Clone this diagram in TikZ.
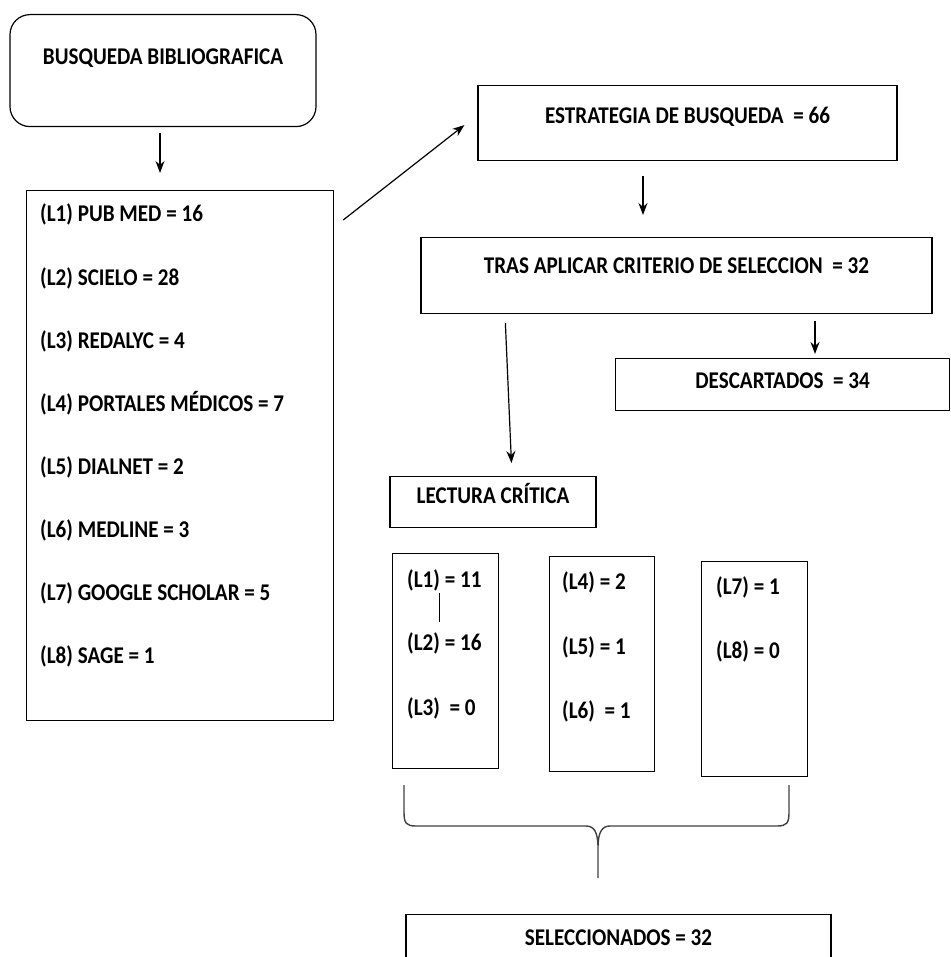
\documentclass[tikz,border=0pt]{standalone}
\usepackage{fontspec}
\setmainfont{Carlito}[FakeStretch=0.88]
\usetikzlibrary{arrows.meta}

\begin{document}
\begin{tikzpicture}[x=1pt,y=-1pt,font=\fontsize{24}{28}\selectfont\bfseries,
  box/.style={draw,line width=1.2pt,inner sep=0pt,align=center},
  txt/.style={anchor=base west,inner sep=0pt},
  post/.style={->,>={Stealth[length=12pt,width=9pt]},line width=1.2pt}]

\useasboundingbox (0,0) rectangle (950,957);

% left column
\node[box,rounded corners=20pt,anchor=north,minimum width=306pt,text height=50pt,text depth=62pt] (biblio) at (163,14) {BUSQUEDA BIBLIOGRAFICA};
\node[box,anchor=north west,minimum width=307pt,minimum height=530pt] (lista) at (26,190) {};
\foreach \i/\t in {1/{PUB MED = 16}, 2/{SCIELO = 28}, 3/{REDALYC = 4}, 4/{PORTALES MÉDICOS = 7},
                   5/{DIALNET = 2}, 6/{MEDLINE = 3}, 7/{GOOGLE SCHOLAR = 5}, 8/{SAGE = 1}}{
\node[txt] (l\i) at (40,{222+63*(\i-1)}) {(L\i) \t};
}

% right column
\node[box,anchor=north,minimum width=419pt,text height=38pt,text depth=37pt] (estr) at (687.5,85) {ESTRATEGIA DE BUSQUEDA \ = 66};
\node[box,anchor=north,minimum width=511pt,text height=36pt,text depth=40pt] (tras) at (676.5,237) {TRAS APLICAR CRITERIO DE SELECCION \ = 32};
\node[box,anchor=north west,minimum width=334pt,text height=30pt,text depth=22pt] (desc) at (615,358) {DESCARTADOS \ = 34};
\node[box,anchor=north,minimum width=206pt,text height=27pt,text depth=24pt] (lect) at (493,476) {LECTURA CRÍTICA};

% groups
\node[box,anchor=north west,minimum width=106pt,minimum height=215pt] (g1) at (392,553) {};
\node[box,anchor=north west,minimum width=105pt,minimum height=215pt] (g2) at (549,556) {};
\node[box,anchor=north west,minimum width=106pt,minimum height=215pt] (g3) at (701,561) {};

\node[txt] (k1) at (407,587) {(L1) = 11};
\node[txt] (k2) at (407,650) {(L2) = 16};
\node[txt] (k3) at (407,715) {(L3) \ = 0};
\node[txt] (k4) at (562,589) {(L4) = 2};
\node[txt] (k5) at (562,654) {(L5) = 1};
\node[txt] (k6) at (562,718) {(L6) \ = 1};
\node[txt] (k7) at (716,594) {(L7) = 1};
\node[txt] (k8) at (716,658) {(L8) = 0};
\draw[line width=0.9pt] (439,593) -- (439,622);

\node[box,anchor=north,minimum width=425pt,text height=31pt,text depth=40pt] (selec) at (618.5,914) {SELECCIONADOS = 32};

% arrows
\draw[post,shorten <=6pt,shorten >=17pt] ([xshift=-3pt]biblio.south) -- ([xshift=-3pt]biblio.south |- lista.north);
\draw[post] ([shift={(9,30)}]lista.north east) -- ([shift={(-13,2)}]estr.west);
\draw[post,shorten <=15pt,shorten >=22pt] ([xshift=-44.5pt]estr.south) -- ([xshift=-44.5pt]estr.south |- tras.north);
\draw[post,shorten <=7pt,shorten >=4pt] ([xshift=138.5pt]tras.south) -- ([xshift=138.5pt]tras.south |- desc.north);
\draw[post,shorten <=9pt,shorten >=13pt] ([xshift=-171.5pt]tras.south) -- ([xshift=19pt]lect.north);

% brace
\draw[line width=1.4pt,black!75] (404,785) -- (404,812) .. controls (404,823) and (406,826) .. (416,826) -- (586,826)
  .. controls (594,826) and (598,832) .. (598,848) -- (598,878)
  (598,848) .. controls (598,832) and (602,826) .. (610,826) -- (777,826)
  .. controls (787,826) and (789,823) .. (789,812) -- (789,785);

\end{tikzpicture}
\end{document}
